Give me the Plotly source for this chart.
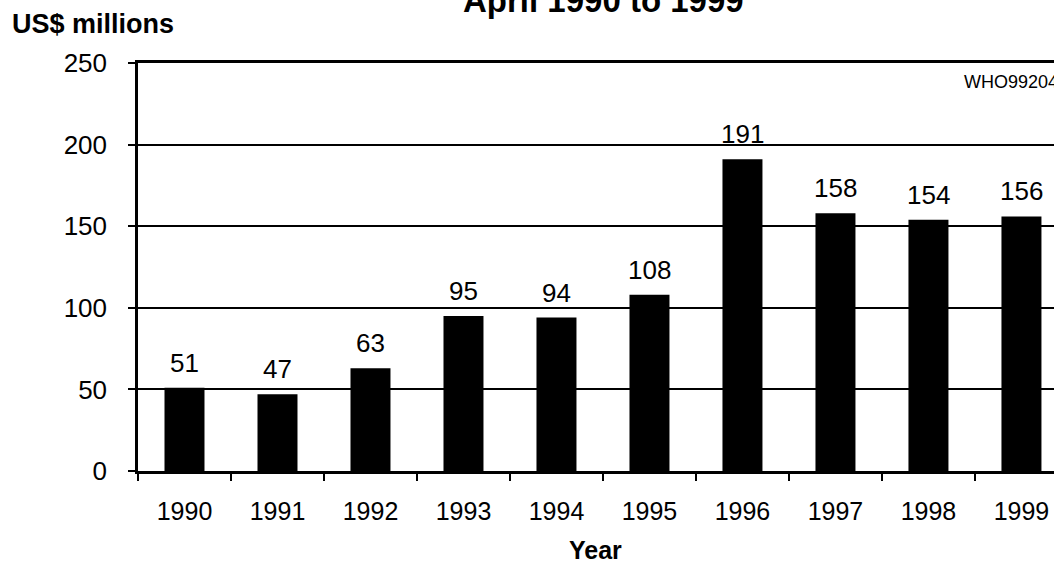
import plotly.graph_objects as go

years = ["1990", "1991", "1992", "1993", "1994", "1995", "1996", "1997", "1998", "1999"]
values = [51, 47, 63, 95, 94, 108, 191, 158, 154, 156]
y_ticks = [0, 50, 100, 150, 200, 250]

FONT = "Arial, Liberation Sans, sans-serif"

fig = go.Figure()
fig.add_trace(go.Bar(
    x=years, y=values,
    marker=dict(color="black", line=dict(width=0)),
    width=0.43,
    hoverinfo="x+y",
))

annotations = []
for i, v in enumerate(values):
    annotations.append(dict(
        x=i, y=v, xref="x", yref="y", text=str(v), showarrow=False,
        yanchor="bottom", yshift=8, font=dict(family=FONT, size=26, color="black"),
    ))

annotations += [
    dict(text="<b>April 1990 to 1999</b>", xref="paper", yref="paper", x=0.5077, y=1.103,
         xanchor="center", yanchor="bottom", showarrow=False,
         font=dict(family=FONT, size=33, color="black")),
    dict(text="<b>US$ millions</b>", xref="paper", yref="paper", x=-0.1397, y=1.054,
         xanchor="left", yanchor="bottom", showarrow=False,
         font=dict(family=FONT, size=27, color="black")),
    dict(text="<b>Year</b>", xref="paper", yref="paper", x=0.4995, y=-0.232,
         xanchor="center", yanchor="bottom", showarrow=False,
         font=dict(family=FONT, size=25, color="black")),
    dict(text="WHO99204", xref="paper", yref="paper", x=0.9, y=0.924,
         xanchor="left", yanchor="bottom", showarrow=False,
         font=dict(family=FONT, size=18, color="black")),
]

fig.update_layout(
    width=1054, height=563,
    margin=dict(l=138, r=0, t=63, b=92, pad=0),
    paper_bgcolor="white", plot_bgcolor="white",
    showlegend=False,
    annotations=annotations,
    font=dict(family=FONT, color="black"),
    xaxis=dict(
        type="category", range=[-0.5, 9.35],
        showline=True, linecolor="black", linewidth=2.5, mirror=True,
        ticks="outside", tickson="boundaries", ticklen=7, tickwidth=2, tickcolor="black",
        showgrid=False, zeroline=False,
        tickfont=dict(family=FONT, size=25, color="black"),
        ticklabelstandoff=16,
    ),
    yaxis=dict(
        range=[0, 250], tickvals=y_ticks,
        showline=True, linecolor="black", linewidth=2.5,
        ticks="outside", ticklen=7, tickwidth=2, tickcolor="black",
        showgrid=True, gridcolor="black", gridwidth=1.5,
        zeroline=False,
        tickfont=dict(family=FONT, size=26, color="black"),
        ticklabelstandoff=16,
    ),
)

fig.write_html(
    "out.html",
    config={"displayModeBar": False},
    post_script="document.body.style.margin='0';document.body.style.overflow='hidden';",
)
